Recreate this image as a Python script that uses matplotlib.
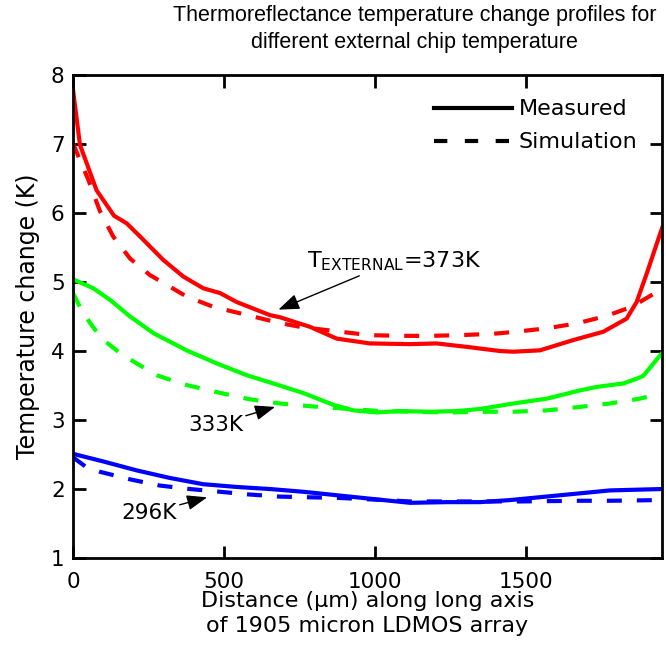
import numpy as np
import matplotlib
matplotlib.use('Agg')
import matplotlib.pyplot as plt

plt.rcParams['font.family'] = ['DejaVu Sans']
plt.rcParams['mathtext.fontset'] = 'dejavusans'

# Measured / simulated profiles (distance in um, dT in K)
red_meas_x = [0, 23, 78, 136, 178, 222, 299, 365, 431, 487, 542, 652, 685, 785, 873, 983,
              1116, 1204, 1304, 1414, 1458, 1546, 1657, 1756, 1833, 1866, 1900, 1933, 1950]
red_meas_y = [7.79, 6.99, 6.33, 5.96, 5.85, 5.66, 5.32, 5.08, 4.91, 4.84, 4.71, 4.52, 4.49,
              4.35, 4.18, 4.11, 4.10, 4.11, 4.06, 4.00, 3.99, 4.01, 4.16, 4.28, 4.47, 4.71,
              5.13, 5.56, 5.78]
red_sim_x = [0, 18, 51, 89, 133, 189, 255, 310, 376, 465, 597, 680, 752, 884, 983, 1083,
             1182, 1281, 1392, 1469, 1569, 1668, 1767, 1855, 1888, 1950]
red_sim_y = [7.01, 6.82, 6.48, 6.03, 5.66, 5.34, 5.10, 4.96, 4.79, 4.64, 4.50, 4.41, 4.35,
             4.28, 4.23, 4.22, 4.22, 4.23, 4.25, 4.28, 4.33, 4.40, 4.51, 4.65, 4.74, 4.90]

green_meas_x = [0, 67, 123, 189, 266, 376, 476, 575, 663, 763, 862, 928, 1006, 1083, 1182,
                1271, 1348, 1458, 1569, 1679, 1734, 1822, 1867, 1888, 1950]
green_meas_y = [5.04, 4.91, 4.74, 4.50, 4.26, 4.01, 3.82, 3.65, 3.53, 3.39, 3.22, 3.14, 3.11,
                3.13, 3.12, 3.13, 3.16, 3.24, 3.31, 3.43, 3.48, 3.53, 3.60, 3.64, 3.97]
green_sim_x = [0, 23, 56, 95, 156, 211, 277, 364, 480, 586, 685, 785, 884, 1017, 1127, 1237,
               1370, 1458, 1569, 1679, 1778, 1877, 1950]
green_sim_y = [4.84, 4.64, 4.41, 4.18, 3.97, 3.82, 3.65, 3.52, 3.40, 3.30, 3.24, 3.20, 3.17,
               3.13, 3.12, 3.11, 3.12, 3.12, 3.14, 3.19, 3.24, 3.31, 3.39]

blue_meas_x = [0, 100, 211, 321, 431, 542, 652, 763, 873, 983, 1116, 1237, 1348, 1447, 1613,
               1778, 1950]
blue_meas_y = [2.51, 2.40, 2.27, 2.16, 2.07, 2.03, 2.00, 1.96, 1.91, 1.86, 1.80, 1.81, 1.81,
               1.84, 1.91, 1.98, 2.00]
blue_sim_x = [0, 40, 89, 189, 288, 387, 487, 586, 685, 785, 884, 983, 1116, 1281, 1480, 1679,
              1778, 1950]
blue_sim_y = [2.46, 2.33, 2.25, 2.14, 2.05, 2.00, 1.96, 1.92, 1.89, 1.88, 1.87, 1.85, 1.82,
              1.82, 1.82, 1.83, 1.83, 1.84]

fig = plt.figure(figsize=(6.66, 6.64), dpi=100)
ax = fig.add_axes([0.1096, 0.1596, 0.8844, 0.7274])

lw = 3
dash = (3.6, 3.6)
ax.plot(red_meas_x, red_meas_y, color=(1, 0, 0), lw=lw)
ax.plot(red_sim_x, red_sim_y, color=(1, 0, 0), lw=lw, dashes=dash)
ax.plot(green_meas_x, green_meas_y, color=(0, 1, 0), lw=lw)
ax.plot(green_sim_x, green_sim_y, color=(0, 1, 0), lw=lw, dashes=dash)
ax.plot(blue_meas_x, blue_meas_y, color=(0, 0, 1), lw=lw)
ax.plot(blue_sim_x, blue_sim_y, color=(0, 0, 1), lw=lw, dashes=dash)

# legend handles (black)
ax.plot([], [], color='k', lw=lw, label='Measured')
ax.plot([], [], color='k', lw=lw, dashes=(3.2, 4.2), label='Simulation')
handles, labels = ax.get_legend_handles_labels()
ax.legend(handles, labels, loc='upper right', frameon=False, fontsize=16,
          handlelength=3.5, handletextpad=0.3, labelspacing=0.58,
          borderaxespad=0.65, borderpad=0.45)

ax.set_xlim(0, 1950)
ax.set_ylim(1, 8)
ax.set_xticks([0, 500, 1000, 1500])
ax.set_yticks(range(1, 9))
ax.tick_params(direction='in', length=9, width=2, top=True, right=True,
               labelsize=15.5)
ax.tick_params(axis='x', pad=10)
ax.tick_params(axis='y', pad=6)
for s in ax.spines.values():
    s.set_linewidth(2)

ax.set_xlabel('Distance (μm) along long axis\nof 1905 micron LDMOS array',
              fontsize=16, linespacing=1.28)
ax.xaxis.set_label_coords(0.5, -0.069)
ax.set_ylabel('Temperature change (K)', fontsize=17)
ax.yaxis.set_label_coords(-0.056, 0.5)
fig.text(0.623, 0.993, 'Thermoreflectance temperature change profiles for\n'
         'different external chip temperature', fontsize=15.5, ha='center',
         va='top', linespacing=1.4, family='Liberation Sans')

arrow = dict(arrowstyle='-|>,head_length=0.8,head_width=0.3', color='k', lw=1,
             shrinkA=0, shrinkB=0)
ax.annotate(r'T$_{\mathrm{EXTERNAL}}$=373K', xy=(680, 4.6), xytext=(775, 5.13),
            fontsize=16, arrowprops=arrow, ha='left', va='bottom')
ax.annotate('333K', xy=(669, 3.19), xytext=(563, 2.93), fontsize=15.5,
            arrowprops=arrow, ha='right', va='center')
ax.annotate('296K', xy=(444, 1.88), xytext=(344, 1.65), fontsize=15.5,
            arrowprops=arrow, ha='right', va='center')

fig.savefig('out.png', dpi=100)
